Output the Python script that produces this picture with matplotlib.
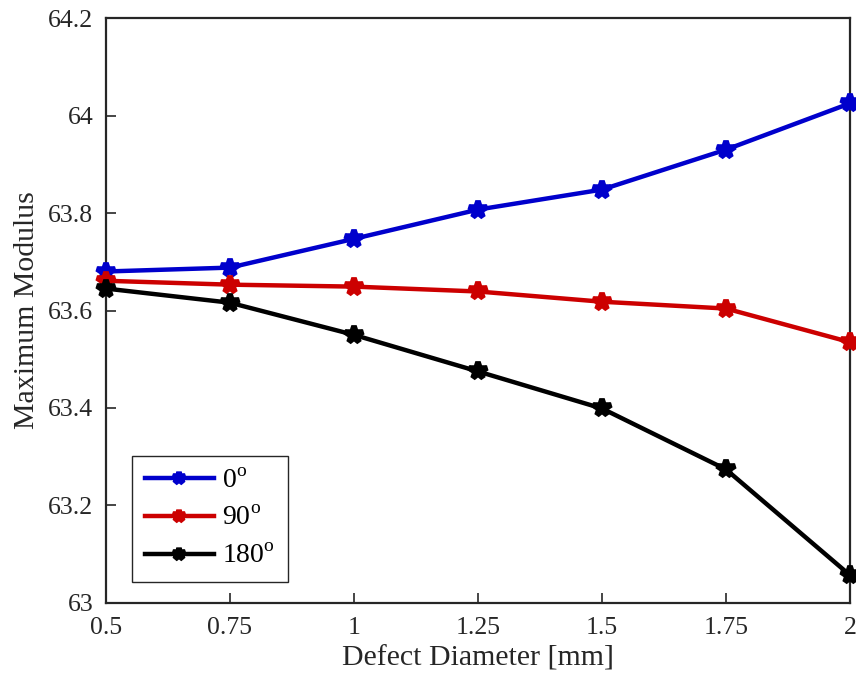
import matplotlib
matplotlib.use("Agg")
import matplotlib.pyplot as plt

plt.rcParams["font.family"] = "Liberation Serif"
plt.rcParams["mathtext.fontset"] = "custom"
plt.rcParams["mathtext.rm"] = "Liberation Serif"

diameter = [0.5, 0.75, 1.0, 1.25, 1.5, 1.75, 2.0]
mod_0 = [63.680, 63.688, 63.747, 63.807, 63.848, 63.930, 64.025]
mod_90 = [63.661, 63.653, 63.649, 63.639, 63.618, 63.604, 63.535]
mod_180 = [63.645, 63.616, 63.550, 63.475, 63.399, 63.274, 63.057]

labels = [r"0$^{\mathrm{o}}$", r"90$^{\mathrm{o}}$", r"180$^{\mathrm{o}}$"]
colors = ["#0000CC", "#CC0000", "black"]
axc = "#262626"

fig = plt.figure(figsize=(8.56, 6.9), dpi=100)
ax = fig.add_axes([0.1238, 0.1261, 0.8692, 0.8478])

for ys, lab, c in zip([mod_0, mod_90, mod_180], labels, colors):
    ax.plot(diameter, ys, color=c, lw=3.2, marker="*", ms=13, mew=4, label=lab,
            clip_on=False, zorder=3)

ax.set_xlim(0.5, 2)
ax.set_ylim(63, 64.2)
ax.set_xticks(diameter)
ax.set_xticklabels(["0.5", "0.75", "1", "1.25", "1.5", "1.75", "2"])
ax.set_yticks([63, 63.2, 63.4, 63.6, 63.8, 64, 64.2])
ax.set_yticklabels(["63", "63.2", "63.4", "63.6", "63.8", "64", "64.2"])
ax.tick_params(direction="in", length=7, width=1.2, labelsize=18.5, colors=axc,
               top=False, right=False)
ax.tick_params(axis="x", pad=10)
ax.tick_params(axis="y", pad=9)
for s in ax.spines.values():
    s.set_linewidth(1.6)
    s.set_color(axc)
ax.set_xlabel("Defect Diameter [mm]", fontsize=21.5, color=axc, labelpad=5)
ax.set_ylabel("Maximum Modulus", fontsize=21.5, color=axc, labelpad=6)

leg = ax.legend(loc="lower left", bbox_to_anchor=(0.035, 0.036), borderaxespad=0,
                fontsize=20, fancybox=False, edgecolor=axc, framealpha=1,
                handlelength=2.5, handletextpad=0.3, markerscale=0.7,
                labelspacing=0.45, borderpad=0.45)
leg.get_frame().set_linewidth(1.0)

fig.savefig("out.png", dpi=100)
